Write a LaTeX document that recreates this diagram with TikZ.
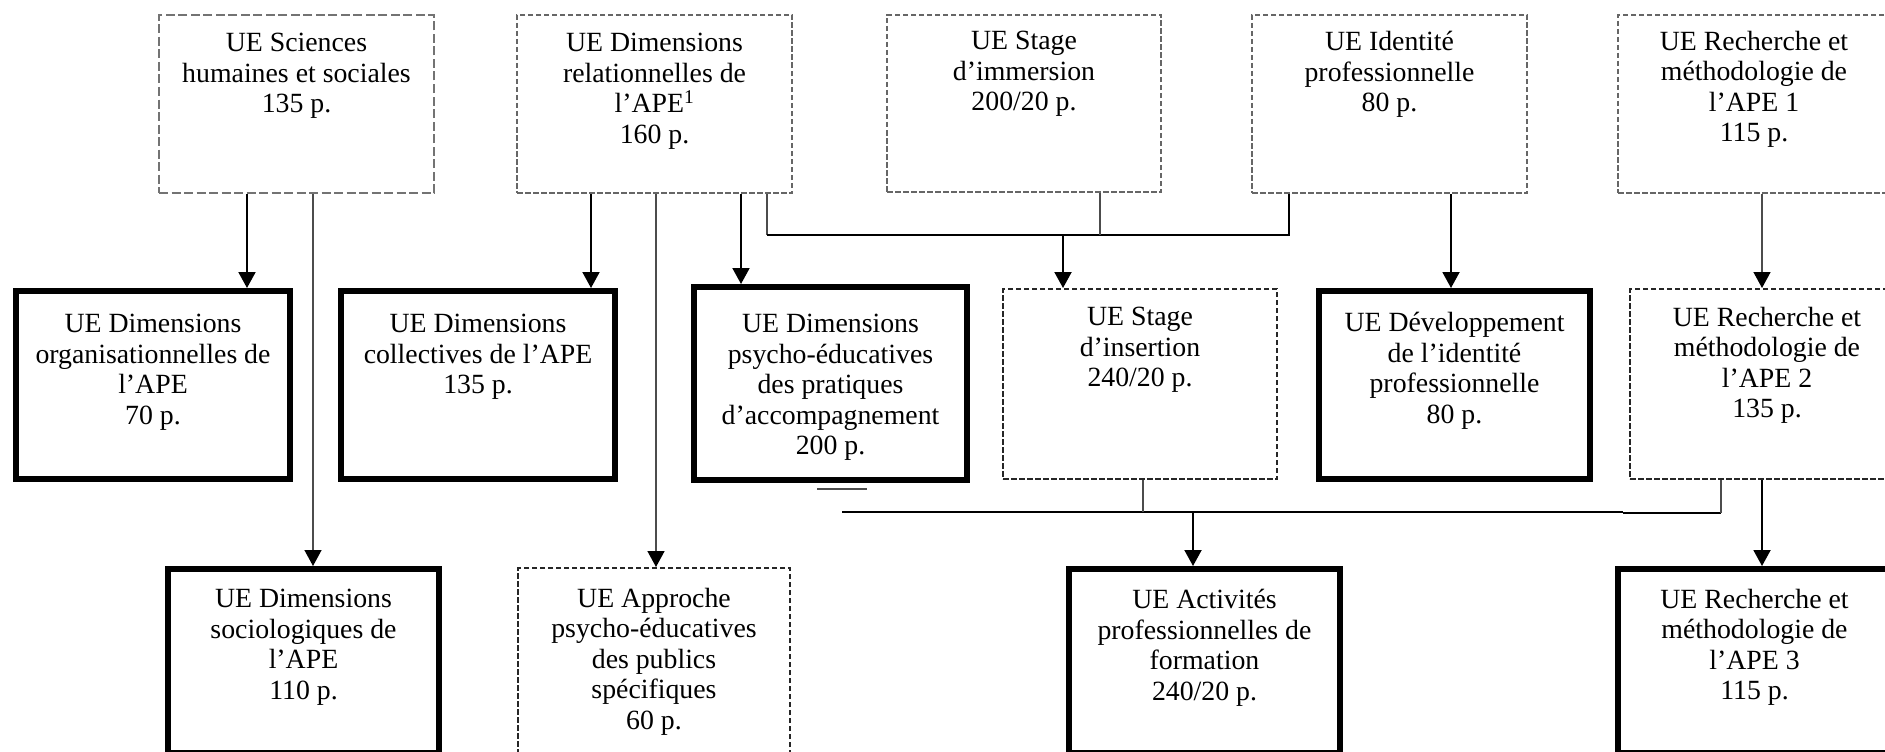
\documentclass[tikz,border=0pt]{standalone}
\usepackage{fontspec}
\setmainfont{Liberation Serif}
\usetikzlibrary{arrows.meta}
\tikzset{
  sbox/.style={draw=black!55, line width=2pt, dash pattern=on 9pt off 3.5pt, fill=white, inner sep=0pt},
  dbox/.style={draw=black!60, line width=2pt, dash pattern=on 5.5pt off 2.5pt, fill=white, inner sep=0pt},
  ddbox/.style={draw=black!85, line width=2pt, dash pattern=on 5.5pt off 2.5pt, fill=white, inner sep=0pt},
  kbox/.style={draw=black, line width=6pt, fill=white, inner sep=0pt},
  txt/.style={align=center, inner sep=0pt, font=\fontsize{27.8}{30.5}\selectfont},
  conn/.style={line width=2pt, draw=black},
  tconn/.style={line width=1.5pt, draw=black!70},
  arr/.style={conn, -{Triangle[width=17pt,length=16pt,color=black]}},
  tarr/.style={tconn, -{Triangle[width=17pt,length=16pt,color=black]}},
  stray/.style={line width=2.5pt, draw=black!70},
}
\newcommand\ubox[9]{%
  \node[#2, anchor=north west, minimum width={(#5-#3-#7)*1pt}, minimum height={(#6-#4-#7)*1pt}] (#1) at (#3,#4) {};
  \node[txt, anchor=north] (#1-t) at ([yshift=-#8pt]#1.north) {#9};
}
\begin{document}
\begin{tikzpicture}[x=1pt, y=-1pt]
\useasboundingbox[fill=white] (0,0) rectangle (1885,752);
% row 1
\ubox{sci}{sbox}{158}{14}{435}{194}{2}{19}{UE Sciences\\humaines et sociales\\135 p.}
\ubox{rel}{dbox}{516}{14}{793}{194}{2}{19}{UE Dimensions\\relationnelles de\\l’APE\textsuperscript{1}\\160 p.}
\ubox{imm}{dbox}{886}{14}{1162}{193}{2}{17}{UE Stage\\d’immersion\\200/20 p.}
\ubox{ide}{dbox}{1251}{14}{1528}{194}{2}{17}{UE Identité\\professionnelle\\80 p.}
\ubox{re1}{dbox}{1617}{14}{1891}{194}{2}{17}{UE Recherche et\\méthodologie de\\l’APE 1\\115 p.}
% row 2
\ubox{org}{kbox}{13}{288}{293}{482}{6}{26}{UE Dimensions\\organisationnelles de\\l’APE\\70 p.}
\ubox{col}{kbox}{338}{288}{618}{482}{6}{26}{UE Dimensions\\collectives de l’APE\\135 p.}
\ubox{psy}{kbox}{691}{284}{970}{483}{6}{30}{UE Dimensions\\psycho-éducatives\\des pratiques\\d’accompagnement\\200 p.}
\ubox{ins}{ddbox}{1002}{288}{1278}{480}{2}{19}{UE Stage\\d’insertion\\240/20 p.}
\ubox{dev}{kbox}{1316}{288}{1593}{482}{6}{24}{UE Développement\\de l’identité\\professionnelle\\80 p.}
\ubox{re2}{ddbox}{1629}{288}{1905}{480}{2}{19}{UE Recherche et\\méthodologie de\\l’APE 2\\135 p.}
% row 3
\ubox{soc}{kbox}{165}{566}{442}{756}{6}{23}{UE Dimensions\\sociologiques de\\l’APE\\110 p.}
\ubox{app}{ddbox}{517}{567}{791}{756}{2}{21}{UE Approche\\psycho-éducatives\\des publics\\spécifiques\\60 p.}
\ubox{act}{kbox}{1066}{566}{1343}{756}{6}{23}{UE Activités\\professionnelles de\\formation\\240/20 p.}
\ubox{re3}{kbox}{1615}{566}{1894}{756}{6}{23}{UE Recherche et\\méthodologie de\\l’APE 3\\115 p.}
% helper coordinates
\coordinate (xA) at (247,0);
\coordinate (xB) at (313,0);
\coordinate (xC) at (591,0);
\coordinate (xD) at (656,0);
\coordinate (xE) at (741,0);
\coordinate (j1) at (767,235);
\coordinate (j2) at (1289,235);
\coordinate (xG) at (1100,0);
\coordinate (xH) at (1063,0);
\coordinate (xI) at (1451,0);
\coordinate (xO) at (1762,0);
\coordinate (l1) at (842,512);
\coordinate (l2) at (1623,512);
\coordinate (l3) at (1623,513);
\coordinate (l4) at (1721,513);
\coordinate (xM) at (1143,0);
\coordinate (xN) at (1193,0);
\coordinate (k1) at (817,489);
\coordinate (k2) at (867,489);
% connectors
\draw[arr] (xA |- sci.south) -- (xA |- org.north);
\draw[tarr] (xB |- sci.south) -- (xB |- soc.north);
\draw[arr] (xC |- rel.south) -- (xC |- col.north);
\draw[tarr] (xD |- rel.south) -- (xD |- app.north);
\draw[arr] (xE |- rel.south) -- (xE |- psy.north);
\draw[tconn] (j1 |- rel.south) -- (j1);
\draw[conn] (j1) -- (j2) -- (j2 |- ide.south);
\draw[tconn] (xG |- imm.south) -- (xG |- j1);
\draw[arr] (xH |- j1) -- (xH |- ins.north);
\draw[arr] (xI |- ide.south) -- (xI |- dev.north);
\draw[tarr] (xO |- re1.south) -- (xO |- re2.north);
\draw[stray] (k1) -- (k2);
\draw[conn] (l1) -- (l2);
\draw[conn] (l3) -- (l4);
\draw[tconn] (l4) -- (l4 |- re2.south);
\draw[tconn] (xM |- ins.south) -- (xM |- l1);
\draw[arr] (xN |- l1) -- (xN |- act.north);
\draw[arr] (xO |- re2.south) -- (xO |- re3.north);
\end{tikzpicture}
\end{document}
